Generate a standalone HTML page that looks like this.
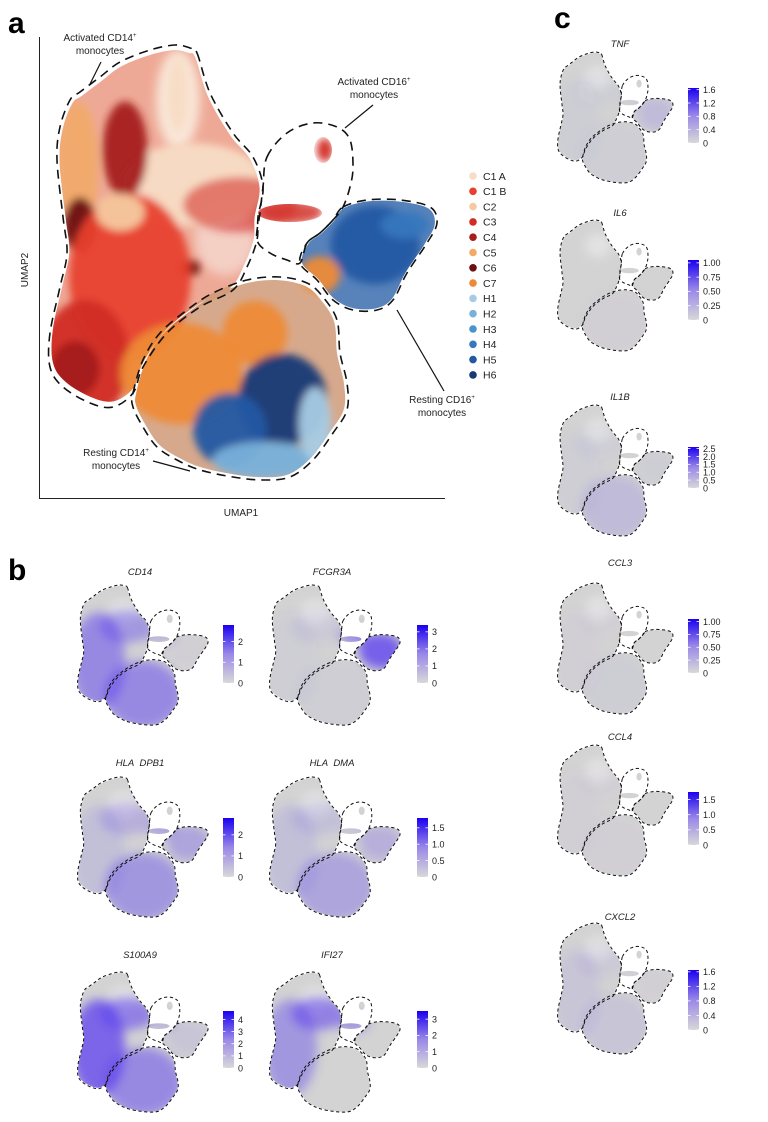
<!DOCTYPE html>
<html><head><meta charset="utf-8">
<style>
html,body{margin:0;padding:0;background:#fff;}
svg{display:block;font-family:"Liberation Sans",Arial,sans-serif;}
</style></head>
<body>
<svg id="fig" width="768" height="1122" viewBox="0 0 768 1122" xmlns="http://www.w3.org/2000/svg">
<defs>
<filter id="soft" x="-40%" y="-40%" width="180%" height="180%"><feGaussianBlur stdDeviation="5"/></filter>
<filter id="soft2" x="-30%" y="-30%" width="160%" height="160%"><feGaussianBlur stdDeviation="4"/></filter>
</defs>
<text x="8" y="33" font-size="30" font-weight="bold" fill="#000">a</text>
<text x="8" y="580" font-size="30" font-weight="bold" fill="#000">b</text>
<text x="554" y="28" font-size="30" font-weight="bold" fill="#000">c</text>
<g id="main"></g>
<g id="minis"></g>
</svg>
<script>
// ---- cluster data (UMAP units, domain 0..100) ----
const clusterNames = ["C1 A","C1 B","C2","C3","C4","C5","C6","C7","H1","H2","H3","H4","H5","H6"];
const clusterColors = ["#f8dcc5","#e8402e","#f5caa0","#d12c25","#a51f1f","#f1aa6a","#6c1010","#ee8a36","#a8cbe4","#79b1da","#4a93cc","#3677bd","#2458a3","#173a76"];
const blobCluster = [0,0,5,4,6,6,1,3,3,3,4,7,7,7,12,11,13,12,9,8,3,2];
const blobX = [38,34.2,9.6,21.2,10.1,37.2,22.4,11.3,49.5,61.8,8.9,35,53.2,69.2,82.8,90.1,60,47,55.7,68,70.4,20];
const blobY = [68,87.4,72,75.5,59.2,49.9,48,30,63.6,62.5,28,27,35.8,48.4,54.9,59.2,21.3,14.8,8.2,16,75.5,62];
const blobRx = [18,2.5,5,5.5,4,2.5,15,11,14,8,6,15,8,5,11,6,11,9,13,4,2,6];
const blobRy = [9,8,14,10.5,6,1.7,18,13,6,3,6,11,7,4,8.5,3,10,8,4,8,2.6,4];
// ---- feature plot data ----
const genes = ["CD14","FCGR3A","HLA  DPB1","HLA  DMA","S100A9","IFI27","TNF","IL6","IL1B","CCL3","CCL4","CXCL2"];
// region intensities: [left CD14, upper CD14, activated CD16, resting CD16, resting CD14]
const exprLeftCD14 = [0.55,0.05,0.15,0.15,0.8,0.45,0.03,0.0,0.05,0.02,0.02,0.1];
const exprUpperCD14 = [0.45,0.08,0.25,0.15,0.6,0.6,0.03,0.0,0.05,0.02,0.02,0.08];
const exprActCD16 = [0.2,0.5,0.35,0.1,0.2,0.45,0.05,0.0,0.0,0.0,0.0,0.02];
const exprRestCD16 = [0.02,0.85,0.35,0.25,0.1,0.0,0.18,0.0,0.03,0.0,0.0,0.02];
const exprRestCD14 = [0.55,0.05,0.45,0.35,0.55,0.0,0.05,0.02,0.18,0.03,0.02,0.1];
const cbMax = [2.8,3.4,2.8,1.8,4.7,3.5,1.65,1.05,2.6,1.05,1.75,1.65];
const cbTicks = [[0,1,2],[0,1,2,3],[0,1,2],[0,0.5,1.0,1.5],[0,1,2,3,4],[0,1,2,3],[0,0.4,0.8,1.2,1.6],[0,0.25,0.5,0.75,1.0],[0,0.5,1.0,1.5,2.0,2.5],[0,0.25,0.5,0.75,1.0],[0,0.5,1.0,1.5],[0,0.4,0.8,1.2,1.6]];
const cbLabels = [["0","1","2"],["0","1","2","3"],["0","1","2"],["0","0.5","1.0","1.5"],["0","1","2","3","4"],["0","1","2","3"],["0","0.4","0.8","1.2","1.6"],["0","0.25","0.50","0.75","1.00"],["0","0.5","1.0","1.5","2.0","2.5"],["0","0.25","0.50","0.75","1.00"],["0","0.5","1.0","1.5"],["0","0.4","0.8","1.2","1.6"]];

const NS="http://www.w3.org/2000/svg";
function mk(tag,attrs,parent){const e=document.createElementNS(NS,tag);for(const k in attrs)e.setAttribute(k,attrs[k]);if(parent)parent.appendChild(e);return e;}
const xs=u=>39+u*4.06, ys=v=>498-v*4.61;

const OL={
 actCD14:[[197,53],[210,93],[233,133],[253,157],[263,187],[258,217],[257,240],[247,267],[233,290],[200,307],[167,333],[143,367],[133,393],[113,407],[90,403],[63,387],[50,367],[50,333],[60,287],[67,253],[63,217],[57,160],[60,127],[70,100],[80,92],[100,77],[120,62],[150,50],[175,45],[190,48]],
 actCD16:[[267,157],[287,133],[313,123],[337,127],[350,140],[353,167],[350,187],[343,207],[333,220],[320,233],[307,243],[300,263],[287,260],[270,253],[257,240],[260,213],[263,187]],
 restCD16:[[343,207],[367,200],[400,200],[430,207],[437,223],[427,243],[407,273],[393,300],[377,310],[353,310],[333,300],[317,280],[300,263],[307,243],[320,233],[333,220]],
 restCD14:[[133,393],[143,360],[160,333],[187,310],[213,293],[247,280],[280,277],[307,283],[323,297],[337,320],[340,353],[347,383],[347,410],[333,433],[313,460],[290,477],[263,480],[233,477],[200,470],[177,460],[157,447],[143,427],[133,407]]
};
const cloudExtra=[[290,213,32,9],[323,150,9,13],[178,92,9,35]];
function pathFrom(pts,f){
  const p=pts.map(f);const n=p.length;let d=`M${p[0][0].toFixed(1)},${p[0][1].toFixed(1)}`;
  for(let i=0;i<n;i++){const p0=p[(i-1+n)%n],p1=p[i],p2=p[(i+1)%n],p3=p[(i+2)%n];
    const c1=[p1[0]+(p2[0]-p0[0])/6,p1[1]+(p2[1]-p0[1])/6],c2=[p2[0]-(p3[0]-p1[0])/6,p2[1]-(p3[1]-p1[1])/6];
    d+=`C${c1[0].toFixed(1)},${c1[1].toFixed(1)} ${c2[0].toFixed(1)},${c2[1].toFixed(1)} ${p2[0].toFixed(1)},${p2[1].toFixed(1)}`;}
  return d+"Z";}
function shrink(pts,k){const cx=pts.reduce((a,p)=>a+p[0],0)/pts.length,cy=pts.reduce((a,p)=>a+p[1],0)/pts.length;return pts.map(p=>[cx+(p[0]-cx)*k,cy+(p[1]-cy)*k]);}

// ---------- Panel a ----------
const main=document.getElementById('main');
const defs=document.querySelector('defs');
const cpM=mk('clipPath',{id:'clipMain'},defs);
["actCD14","restCD16","restCD14"].forEach(k=>{mk('path',{d:pathFrom(shrink(OL[k],0.97),p=>p)},cpM);});
cloudExtra.forEach(c=>{mk('ellipse',{cx:c[0],cy:c[1],rx:c[2],ry:c[3]},cpM);});
const blobs=mk('g',{'clip-path':'url(#clipMain)'},main);
const baseFill={actCD14:'#eb9a84',restCD16:'#3a6cae',restCD14:'#d09a78'};
Object.keys(baseFill).forEach(k=>{mk('path',{d:pathFrom(OL[k],p=>p),fill:baseFill[k],opacity:0.85},blobs);});
mk('ellipse',{cx:178,cy:100,rx:22,ry:50,fill:'#f9e6d8',filter:'url(#soft)'},blobs);
mk('ellipse',{cx:225,cy:240,rx:30,ry:35,fill:'#f4cfc4',filter:'url(#soft)'},blobs);
mk('ellipse',{cx:290,cy:213,rx:32,ry:9,fill:'#e07a6a',filter:'url(#soft2)'},blobs);
const bg=mk('g',{filter:'url(#soft2)'},blobs);
for(let i=0;i<blobX.length;i++){
  const e=mk('ellipse',{cx:xs(blobX[i]),cy:ys(blobY[i]),rx:blobRx[i]*4.06,ry:blobRy[i]*4.61,fill:clusterColors[blobCluster[i]],opacity:(i===8||i===9)?0.55:0.95},bg);
  
  
}
["actCD14","actCD16","restCD16","restCD14"].forEach(k=>{
  const e=mk('path',{d:pathFrom(OL[k],p=>p),fill:'none',stroke:'#111','stroke-width':1.6,'stroke-dasharray':'9 6'},main);
  
  
});
const ax=mk('path',{d:'M39.5,37 L39.5,498.5 L445,498.5',fill:'none',stroke:'#222','stroke-width':1},main);


function txt(x,y,s,size,parent,anchor,name,extra){const t=mk('text',Object.assign({x:x,y:y,'font-size':size,fill:'#222','text-anchor':anchor||'middle'},extra||{}),parent);t.innerHTML=s;return t;}
txt(241,516,'UMAP1',10,main,'middle','x-axis-title');
txt(28,270,'UMAP2',10,main,'middle','y-axis-title',{transform:'rotate(-90 28 270)'});
const sup='<tspan font-size="6" dy="-4">+</tspan>';
txt(100,41,'Activated CD14'+sup,10,main,'middle','label-activated-cd14');
txt(100,54,'monocytes',10,main,'middle','label-activated-cd14-2');
txt(374,85,'Activated CD16'+sup,10,main,'middle','label-activated-cd16');
txt(374,98,'monocytes',10,main,'middle','label-activated-cd16-2');
txt(442,403,'Resting CD16'+sup,10,main,'middle','label-resting-cd16');
txt(442,416,'monocytes',10,main,'middle','label-resting-cd16-2');
txt(116,456,'Resting CD14'+sup,10,main,'middle','label-resting-cd14');
txt(116,469,'monocytes',10,main,'middle','label-resting-cd14-2');
[[101,62,90,84],[373,105,345,128],[397,310,444,391],[153,461,190,471]].forEach((l,i)=>{
  const e=mk('line',{x1:l[0],y1:l[1],x2:l[2],y2:l[3],stroke:'#111','stroke-width':1.2},main);
  
  
});
const lg=mk('g',{},main);


clusterNames.forEach((n,i)=>{
  const y=176+i*15.3;
  const c=mk('circle',{cx:473,cy:y,r:3.8,fill:clusterColors[i]},lg);
  
  
  txt(483,y+3.8,n,10.5,lg,'start','legend-entry-'+n.replace(' ','').toLowerCase());
});

// ---------- Feature plots ----------
const miniGeom=[
 {ox:78,oy:585,sx:0.336,sy:0.322,ty:575,cbx:223,cbt:625,cbb:683},
 {ox:270,oy:585,sx:0.336,sy:0.322,ty:575,cbx:417,cbt:625,cbb:683},
 {ox:78,oy:777,sx:0.336,sy:0.322,ty:766,cbx:223,cbt:818,cbb:877},
 {ox:270,oy:777,sx:0.336,sy:0.322,ty:766,cbx:417,cbt:818,cbb:877},
 {ox:78,oy:972,sx:0.336,sy:0.322,ty:958,cbx:223,cbt:1011,cbb:1068},
 {ox:270,oy:972,sx:0.336,sy:0.322,ty:958,cbx:417,cbt:1011,cbb:1068},
 {ox:558,oy:52,sx:0.297,sy:0.301,ty:47,cbx:688,cbt:88,cbb:143},
 {ox:558,oy:220,sx:0.297,sy:0.301,ty:216,cbx:688,cbt:260,cbb:320},
 {ox:558,oy:405,sx:0.297,sy:0.301,ty:400,cbx:688,cbt:447,cbb:488},
 {ox:558,oy:583,sx:0.297,sy:0.301,ty:566,cbx:688,cbt:619,cbb:673},
 {ox:558,oy:745,sx:0.297,sy:0.301,ty:740,cbx:688,cbt:792,cbb:845},
 {ox:558,oy:923,sx:0.297,sy:0.301,ty:920,cbx:688,cbt:970,cbb:1030}
];
const regions=[[110,280,80,150],[195,175,80,50],[300,205,45,26],[380,250,65,55],[245,385,115,105]];
const exprArr=[exprLeftCD14,exprUpperCD14,exprActCD16,exprRestCD16,exprRestCD14];
const minis=document.getElementById('minis');
genes.forEach((g,gi)=>{
  const m=miniGeom[gi];
  const f=p=>[m.ox+(p[0]-50)*m.sx,m.oy+(p[1]-45)*m.sy];
  const grp=mk('g',{},minis);
  
  
  const cp=mk('clipPath',{id:'clipMini'+gi},defs);
  ["actCD14","restCD16","restCD14"].forEach(k=>{mk('path',{d:pathFrom(shrink(OL[k],0.985),f)},cp);});
  cloudExtra.forEach(c=>{const q=f([c[0],c[1]]);mk('ellipse',{cx:q[0],cy:q[1],rx:c[2]*m.sx,ry:c[3]*m.sy},cp);});
  const cg=mk('g',{'clip-path':`url(#clipMini${gi})`},grp);
  mk('rect',{x:m.ox-10,y:m.oy-10,width:150,height:170,fill:'#d3d3d3'},cg);
  const uq=f([185,130]);
  mk('ellipse',{cx:uq[0],cy:uq[1],rx:45*m.sx,ry:40*m.sy,fill:'#e2e2e2',filter:'url(#soft)'},cg);
  const og=mk('g',{filter:'url(#soft)'},cg);
  regions.forEach((r,ri)=>{
    const v=exprArr[ri][gi];
    const q=f([r[0],r[1]]);
    const e=mk('ellipse',{cx:q[0],cy:q[1],rx:r[2]*m.sx,ry:r[3]*m.sy,fill:'#5a3cf0',opacity:Math.min(1,v*0.9)},og);
    
    
  });
  ["actCD14","actCD16","restCD16","restCD14"].forEach(k=>{
    mk('path',{d:pathFrom(OL[k],f),fill:'none',stroke:'#111','stroke-width':1,'stroke-dasharray':'3.2 2.6'},grp);
  });
  txt(m.ox+62,m.ty,g.replace(/ /g,'&#160;'),9.5,grp,'middle','feature-title',{'font-style':'italic'});
  const gid='grad'+gi;
  const lgd=mk('linearGradient',{id:gid,x1:0,y1:1,x2:0,y2:0},defs);
  mk('stop',{offset:'0','stop-color':'#d8d8d8'},lgd);
  mk('stop',{offset:'0.5','stop-color':'#9a88e8'},lgd);
  mk('stop',{offset:'1','stop-color':'#1a00f0'},lgd);
  const cb=mk('rect',{x:m.cbx,y:m.cbt,width:11,height:m.cbb-m.cbt,fill:`url(#${gid})`},grp);
  
  
  const cy=v=>m.cbb-v/cbMax[gi]*(m.cbb-m.cbt);
  cbTicks[gi].forEach((t,ti)=>{
    const y=cy(t);
    mk('line',{x1:m.cbx,x2:m.cbx+2.5,y1:y,y2:y,stroke:'#fff','stroke-width':0.8},grp);
    mk('line',{x1:m.cbx+8.5,x2:m.cbx+11,y1:y,y2:y,stroke:'#fff','stroke-width':0.8},grp);
    txt(m.cbx+15,y+3.3,cbLabels[gi][ti],9,grp,'start','colorbar-tick-label');
  });
});
</script>
</body></html>
